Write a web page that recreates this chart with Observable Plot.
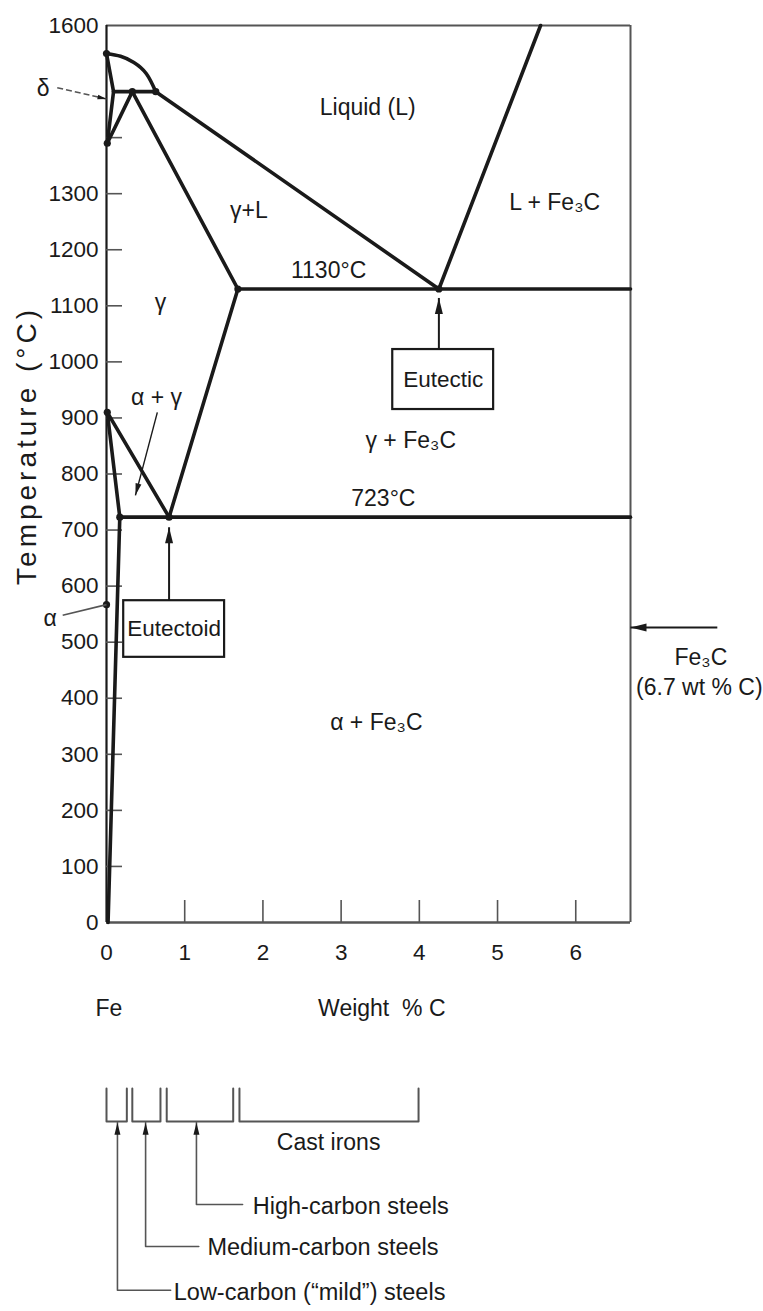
<!DOCTYPE html>
<html><head><meta charset="utf-8">
<script src="https://cdn.jsdelivr.net/npm/d3@7"></script>
<script src="https://cdn.jsdelivr.net/npm/@observablehq/plot@0.6"></script>
<style>body{margin:0;background:#fff}</style>
</head><body><div id="chart"></div>
<script>
const FONT = "'Liberation Sans',Arial,'DejaVu Sans',sans-serif";

// ---- axes ----
const xMax = 6.7, tMax = 1600;
const yTickLabels = [0,100,200,300,400,500,600,700,800,900,1000,1100,1200,1300,1600];
const yTickMarks = [100,200,300,400,500,600,700,800,900,1000,1100,1200,1300,1400];
const xTickLabels = [0,1,2,3,4,5,6];
const xTickMarks = [1,2,3,4,5,6];

// ---- phase boundaries [wt% C, °C] ----
const liquidusDelta = [[0,1550],[0.18,1545],[0.35,1534],[0.51,1514],[0.63,1482]];
const liquidusGamma = [[0.63,1482],[4.25,1130]];
const liquidusFe3C = [[4.25,1130],[5.55,1600]];
const peritectic = [[0.09,1482],[0.63,1482]];
const deltaSolidus = [[0,1550],[0.09,1482]];
const deltaSolvus = [[0.09,1482],[0.01,1390]];
const gammaDelta = [[0.01,1390],[0.33,1482]];
const solidus = [[0.33,1482],[1.68,1130]];
const eutecticLine = [[1.68,1130],[6.7,1130]];
const acm = [[1.68,1130],[0.8,723]];
const a3 = [[0.01,910],[0.8,723]];
const alphaSolvus = [[0.01,910],[0.17,723],[0.02,0]];
const eutectoidLine = [[0.17,723],[6.7,723]];
const junctions = [[0,1550],[0.01,1390],[0.33,1482],[0.63,1482],[0.01,910],[0.8,723],[0.17,723],[1.68,1130],[4.25,1130],[0,567]];

const straight = {liquidusGamma, liquidusFe3C, peritectic, deltaSolidus, deltaSolvus, gammaDelta, solidus, eutecticLine, acm, a3, alphaSolvus, eutectoidLine};
const lineRows = Object.entries(straight).flatMap(([id, pts]) => pts.map(([c, t]) => ({id, c, t})));
const curveRows = liquidusDelta.map(([c, t]) => ({c, t}));

// ---- labels ----
const regionLabels = [
  {text: "Liquid (L)", c: 3.34, t: 1454},
  {text: "γ+L", c: 1.82, t: 1270},
  {text: "L + Fe₃C", c: 5.73, t: 1284},
  {text: "1130°C", c: 2.84, t: 1163},
  {text: "γ", c: 0.69, t: 1106},
  {text: "γ + Fe₃C", c: 3.89, t: 860},
  {text: "723°C", c: 3.54, t: 756},
  {text: "α + Fe₃C", c: 3.45, t: 357},
  {text: "α + γ", c: 0.64, t: 936},
  {text: "δ", c: -0.81, t: 1488},
  {text: "α", c: -0.72, t: 542},
  {text: "Fe₃C", c: 7.6, t: 473},
  {text: "(6.7 wt % C)", c: 7.58, t: 419},
  {text: "Fe", c: 0.03, t: -153},
  {text: "Weight  % C", c: 3.52, t: -153}
];
const yTitle = "Temperature (°C)";
const yTitleT = 851;

const boxes = [
  {text: "Eutectic", c1: 3.66, c2: 4.95, t1: 915, t2: 1022},
  {text: "Eutectoid", c1: 0.22, c2: 1.51, t1: 473, t2: 574}
];
// arrows: from -> to (tip)
const mainArrows = [
  {c1: 4.25, t1: 1022, c2: 4.25, t2: 1114},
  {c1: 0.8, t1: 574, c2: 0.8, t2: 705},
  {c1: 7.81, t1: 526, c2: 6.7, t2: 526}
];
const thinArrows = [
  {c1: 0.65, t1: 910, c2: 0.37, t2: 762}
];
const deltaLeader = [{c1: -0.63, t1: 1489, c2: 0, t2: 1469}];
const alphaLeader = [{c1: -0.56, t1: 548, c2: 0, t2: 567}];

// ---- steel / cast-iron ranges below the axis ----
const rangeTop = -296, rangeBottom = -355, rangeTip = -357;
const ranges = [
  {name: "low", c1: 0, c2: 0.26},
  {name: "medium", c1: 0.33, c2: 0.69},
  {name: "high", c1: 0.77, c2: 1.62},
  {name: "cast", c1: 1.70, c2: 3.99}
];
const rangeLeaders = [
  {name: "Low-carbon (\u201cmild\u201d) steels", c: 0.14, t: -656, cEnd: 0.82, cText: 0.86, tText: -660},
  {name: "Medium-carbon steels", c: 0.50, t: -578, cEnd: 1.18, cText: 1.29, tText: -580},
  {name: "High-carbon steels", c: 1.15, t: -503, cEnd: 1.74, cText: 1.87, tText: -506}
];
const castLabel = [{text: "Cast irons", c: 2.84, t: -392}];

// ---- layout ----
const W = 763, H = 1311, ML = 106, MR = 133, MT = 25, MB = 389;
const kx = (W - ML - MR) / xMax, ky = (H - MT - MB) / tMax;
const angle = d => Math.atan2((d.c2 - d.c1) * kx, (d.t2 - d.t1) * ky) * 180 / Math.PI;
const arrowHead = {draw(ctx, size) { const r = Math.sqrt(size / Math.PI); ctx.moveTo(0, 0); ctx.lineTo(-r * 0.5, r * 2); ctx.lineTo(r * 0.5, r * 2); ctx.closePath(); }};

const bracketRows = ranges.flatMap(r => [
  {name: r.name, c: r.c1, t: rangeTop}, {name: r.name, c: r.c1, t: rangeBottom},
  {name: r.name, c: r.c2, t: rangeBottom}, {name: r.name, c: r.c2, t: rangeTop}]);
const leaderRows = rangeLeaders.flatMap(l => [
  {name: l.name, c: l.c, t: rangeTip}, {name: l.name, c: l.c, t: l.t}, {name: l.name, c: l.cEnd, t: l.t}]);

const ink = "#1a1a1a", grey = "#555";

const chart = Plot.plot({
  width: W, height: H, marginLeft: ML, marginRight: MR, marginTop: MT, marginBottom: MB,
  style: {fontFamily: FONT, background: "#fff", color: ink, overflow: "visible"},
  x: {domain: [0, xMax], label: null},
  y: {domain: [0, tMax], label: null},
  marks: [
    // frame
    Plot.ruleY([tMax], {x1: 0, x2: xMax, stroke: grey, strokeWidth: 2}),
    Plot.ruleX([xMax], {y1: 0, y2: tMax, stroke: grey, strokeWidth: 2}),
    Plot.ruleY([0], {x1: 0, x2: xMax, stroke: grey, strokeWidth: 2.5}),
    Plot.ruleX([0], {y1: 0, y2: tMax, stroke: ink, strokeWidth: 2.2}),
    // inward ticks
    Plot.tickY(yTickMarks, {y: d => d, insetRight: (W - ML - MR) - 16, stroke: grey, strokeWidth: 1.6}),
    Plot.tickX(xTickMarks, {x: d => d, insetTop: (H - MT - MB) - 22, stroke: grey, strokeWidth: 1.6}),
    Plot.axisY(yTickLabels, {tickSize: 0, tickPadding: 8, tickFormat: d => String(d), fontSize: 22.5, fill: ink, label: null}),
    Plot.axisX(xTickLabels, {tickSize: 0, tickPadding: 22, tickFormat: d => String(d), fontSize: 22.5, fill: ink, label: null}),
    // phase boundaries
    Plot.line(lineRows, {x: "c", y: "t", z: "id", stroke: ink, strokeWidth: 3.6, strokeLinejoin: "round", strokeLinecap: "round"}),
    Plot.line(curveRows, {x: "c", y: "t", curve: "natural", stroke: ink, strokeWidth: 3.6, strokeLinecap: "round"}),
    Plot.dot(junctions, {x: d => d[0], y: d => d[1], r: 3.6, fill: ink}),
    // boxes and arrows
    Plot.rect(boxes, {x1: "c1", x2: "c2", y1: "t1", y2: "t2", fill: "#fff", stroke: ink, strokeWidth: 2.2}),
    Plot.text(boxes, {x: d => (d.c1 + d.c2) / 2, y: d => (d.t1 + d.t2) / 2, text: "text", fontSize: 22.5, fill: ink}),
    Plot.link(mainArrows, {x1: "c1", y1: "t1", x2: "c2", y2: "t2", stroke: ink, strokeWidth: 2}),
    Plot.dot(mainArrows, {x: "c2", y: "t2", symbol: arrowHead, r: 8, rotate: angle, fill: ink, stroke: "none"}),
    Plot.link(thinArrows, {x1: "c1", y1: "t1", x2: "c2", y2: "t2", stroke: ink, strokeWidth: 1.4}),
    Plot.dot(thinArrows, {x: "c2", y: "t2", symbol: arrowHead, r: 6, rotate: angle, fill: ink, stroke: "none"}),
    Plot.link(deltaLeader, {x1: "c1", y1: "t1", x2: "c2", y2: "t2", stroke: grey, strokeWidth: 1.6, strokeDasharray: "6,3"}),
    Plot.dot(deltaLeader, {x: "c2", y: "t2", symbol: arrowHead, r: 4.5, rotate: angle, fill: ink, stroke: "none"}),
    Plot.link(alphaLeader, {x1: "c1", y1: "t1", x2: "c2", y2: "t2", stroke: grey, strokeWidth: 1.6}),
    // labels
    Plot.text(regionLabels, {x: "c", y: "t", text: "text", fontSize: 23, fill: ink}),
    Plot.text([yTitle], {text: d => d, y: () => yTitleT, frameAnchor: "left", dx: -79, textAnchor: "middle", rotate: -90, fontSize: 28, fill: ink}),
    // ranges under the axis
    Plot.line(bracketRows, {x: "c", y: "t", z: "name", stroke: grey, strokeWidth: 2}),
    Plot.line(leaderRows, {x: "c", y: "t", z: "name", stroke: grey, strokeWidth: 1.6}),
    Plot.dot(rangeLeaders, {x: "c", y: () => rangeTip, symbol: arrowHead, r: 6, fill: ink, stroke: "none"}),
    Plot.text(rangeLeaders, {x: "cText", y: "tText", text: "name", textAnchor: "start", fontSize: 23.5, fill: ink}),
    Plot.text(castLabel, {x: "c", y: "t", text: "text", fontSize: 23, fill: ink})
  ]
});
// slightly wider letter spacing for the rotated axis title, as in the scanned original
chart.querySelectorAll("text").forEach(el => {
  if (el.textContent === yTitle) el.style.letterSpacing = "4px";
});
document.getElementById("chart").appendChild(chart);
</script>
</body></html>
